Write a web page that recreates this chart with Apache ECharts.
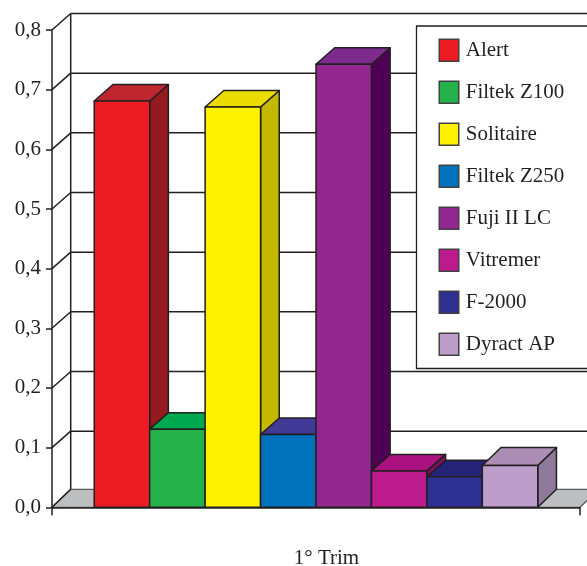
<!DOCTYPE html>
<html><head><meta charset="utf-8">
<style>html,body{margin:0;padding:0;background:#fff}#c{width:587px;height:566px}</style>
<script src="https://cdn.jsdelivr.net/npm/echarts@6/dist/echarts.min.js"></script>
</head><body><div id="c"></div>
<script>
const categories = ['1° Trim'];
const names = ['Alert','Filtek Z100','Solitaire','Filtek Z250','Fuji II LC','Vitremer','F-2000','Dyract AP'];
const values = [0.681,0.131,0.671,0.122,0.7425,0.061,0.051,0.070];
const frontColors = ['#ed1c24','#26b24b','#fff200','#0072bc','#92278f','#bc1a8d','#2e3192','#bd9dca'];
const topColors = ['#be2630','#00a84f','#ebdc00','#403a96','#7c2a8e','#a9127f','#262277','#ac8db5'];
const sideColors = ['#931a1e','#007a3a','#c4b800','#003f7f','#4f0054','#7d0f5e','#1b1a5c','#8f7a9b'];
const wallTicks = [0,0.1,0.2,0.3,0.4,0.5,0.6,0.7,0.8];
const INK = '#231f20';
const DX = 18.7, DY = -16.5, FLOOR_DY = -18;
const BAR_FRACTION = 0.105;
const stroke = {stroke: INK, lineWidth: 1.5, lineJoin: 'round'};

function wallItem(params, api) {
  const cs = params.coordSys;
  const y = api.coord([0, api.value(0)])[1];
  const left = cs.x, right = cs.x + cs.width;
  const children = [];
  if (params.dataIndex === 0) {
    children.push({type:'polygon', shape:{points:[[left,y],[left+DX,y+FLOOR_DY],[right+DX,y+FLOOR_DY],[right,y]]},
      style:{fill:'#bcbec0', stroke:'#58595b', lineWidth:1.2}});
    const topY = api.coord([0, wallTicks[wallTicks.length-1]])[1];
    children.push({type:'line', shape:{x1:left+DX,y1:topY+DY,x2:left+DX,y2:y+FLOOR_DY}, style:{stroke:INK,lineWidth:1.5}});
    children.push({type:'line', shape:{x1:left,y1:y,x2:left+DX,y2:y+FLOOR_DY}, style:{stroke:INK,lineWidth:1.5}});
  } else {
    children.push({type:'line', shape:{x1:left+DX,y1:y+DY,x2:right+DX,y2:y+DY}, style:{stroke:INK,lineWidth:1.5}});
    children.push({type:'line', shape:{x1:left,y1:y,x2:left+DX,y2:y+DY}, style:{stroke:INK,lineWidth:1.5}});
  }
  return {type:'group', children};
}

function barItem(index) {
  return function (params, api) {
    const p = api.coord([api.value(0), api.value(1)]);
    const base = api.coord([api.value(0), 0]);
    const band = api.size([1, 0])[0];
    const w = band * BAR_FRACTION;
    const x0 = p[0] + (index - names.length / 2) * w, x1 = x0 + w;
    const yT = p[1], yB = base[1];
    const dyTop = index === names.length - 1 ? FLOOR_DY : DY;
    return {type:'group', children:[
      {type:'polygon', shape:{points:[[x1,yT],[x1+DX,yT+dyTop],[x1+DX,yB+FLOOR_DY],[x1,yB]]}, style:{fill:sideColors[index],...stroke}},
      {type:'polygon', shape:{points:[[x0,yT],[x0+DX,yT+dyTop],[x1+DX,yT+dyTop],[x1,yT]]}, style:{fill:topColors[index],...stroke}},
      {type:'rect', shape:{x:x0,y:yT,width:w,height:yB-yT}, style:{fill:frontColors[index],...stroke}}
    ]};
  };
}

const font = '"Liberation Serif","Times New Roman",serif';
const chart = echarts.init(document.getElementById('c'), null, {renderer:'canvas'});
chart.setOption({
  animation:false,
  backgroundColor:'#fff',
  grid:{left:52,right:7,top:30,bottom:58.7,containLabel:false,outerBoundsMode:'none'},
  legend:{
    show:true, orient:'vertical', left:416.5, top:26,
    data:names, icon:'rect', itemWidth:19.5, itemHeight:22, itemGap:18.5,
    padding:[12.5,60,12.5,22],
    backgroundColor:'#fff', borderColor:INK, borderWidth:1.3,
    itemStyle:{borderColor:'#414042',borderWidth:1.5},
    textStyle:{fontFamily:font,fontSize:21,lineHeight:22,color:INK,padding:[0,0,0,2]}
  },
  xAxis:{type:'category',data:categories,z:5,
    axisLine:{show:true,lineStyle:{color:INK,width:1.5}},
    axisTick:{show:true,length:8,lineStyle:{color:INK,width:1.5}},
    axisLabel:{margin:41,fontFamily:font,fontSize:21,color:INK,padding:[0,0,0,21]},
    splitLine:{show:false}},
  yAxis:{type:'value',min:0,max:0.8,interval:0.1,z:5,
    axisLine:{show:true,lineStyle:{color:INK,width:1.5}},
    axisTick:{show:true,length:6,lineStyle:{color:INK,width:1.5}},
    axisLabel:{margin:11,fontFamily:font,fontSize:21,color:INK,formatter:v=>v.toFixed(1).replace('.',',')},
    splitLine:{show:false}},
  series:[
    {type:'custom',name:'wall',z:1,clip:false,silent:true,renderItem:wallItem,
     data:wallTicks.map(v=>[v]),encode:{y:0}},
    ...names.map((n,i)=>({
      type:'custom',name:n,z:2+i,clip:false,renderItem:barItem(i),
      itemStyle:{color:frontColors[i]},
      data:[[0,values[i]]],encode:{x:0,y:1}
    }))
  ]
});
</script></body></html>
